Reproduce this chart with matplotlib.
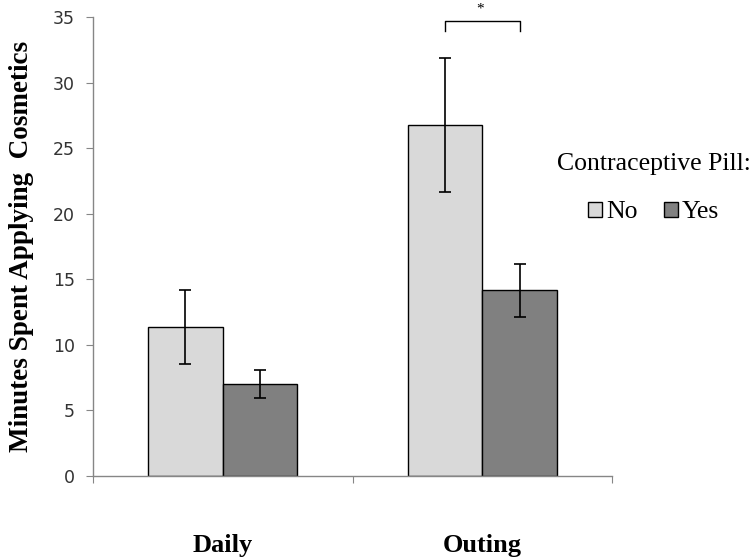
import matplotlib
matplotlib.use("Agg")
import matplotlib.pyplot as plt
import numpy as np
from matplotlib.patches import Patch

categories = ["Daily", "Outing"]
series_names = ["No", "Yes"]
means_no = [11.35, 26.75]
means_yes = [7.0, 14.15]
err_no = [2.8, 5.1]
err_yes = [1.05, 2.0]
yticks = [0, 5, 10, 15, 20, 25, 30, 35]

fig = plt.figure(figsize=(7.55, 5.6), dpi=100)
ax = fig.add_axes([0.1232, 0.15, 0.6874, 0.8196])

x = np.arange(len(categories))
w = 0.288
col_no = "#D9D9D9"
col_yes = "#808080"
ax.bar(x - w/2, means_no, w, color=col_no, edgecolor="black", linewidth=1.0, zorder=2)
ax.bar(x + w/2, means_yes, w, color=col_yes, edgecolor="black", linewidth=1.0, zorder=2)
ax.errorbar(x - w/2, means_no, yerr=err_no, fmt="none", ecolor="black", elinewidth=1.2, capsize=4, capthick=1.2, zorder=3)
ax.errorbar(x + w/2, means_yes, yerr=err_yes, fmt="none", ecolor="black", elinewidth=1.2, capsize=4, capthick=1.2, zorder=3)

ax.set_xlim(-0.5, 1.5)
ax.set_ylim(0, 35)
ax.set_yticks(yticks)
ax.set_yticklabels([str(v) for v in yticks], fontsize=12.5, color="#333333", family="DejaVu Sans")
ax.set_xticks([-0.5, 0.5, 1.5], minor=False)
ax.set_xticklabels(["", "", ""])
ax.set_xticks(x, minor=True)
ax.set_xticklabels(categories, minor=True, fontsize=19, fontweight="bold", family="Liberation Serif")
ax.tick_params(axis="x", which="minor", length=0, pad=42)
ax.tick_params(axis="x", which="major", length=5, color="#868686", direction="out")
ax.tick_params(axis="y", length=5, color="#868686", direction="out", pad=8)
for s in ["top", "right"]:
    ax.spines[s].set_visible(False)
for s in ["left", "bottom"]:
    ax.spines[s].set_color("#868686")
    ax.spines[s].set_linewidth(1.0)

ax.set_ylabel("Minutes Spent Applying  Cosmetics", fontsize=19.5, fontweight="bold",
              family="Liberation Serif", labelpad=14)

# significance bracket
bx0 = 1 - w/2
bx1 = 1 + w/2
ax.plot([bx0, bx0, bx1, bx1], [33.9, 34.7, 34.7, 33.9], color="black", lw=1.0, clip_on=False)
ax.text(1.0 - 0.01, 35.15, "*", ha="center", va="bottom", fontsize=11, family="Liberation Serif", clip_on=False)

handles = [Patch(facecolor=col_no, edgecolor="black", linewidth=1.0),
           Patch(facecolor=col_yes, edgecolor="black", linewidth=1.0)]
leg = fig.legend(handles, series_names, title="Contraceptive Pill:", ncol=2, frameon=False,
                 loc="center", bbox_to_anchor=(0.8656, 0.664),
                 prop={"family": "Liberation Serif", "size": 18.5},
                 title_fontproperties={"family": "Liberation Serif", "size": 18.5},
                 handlelength=0.55, handleheight=0.55, handletextpad=0.15, columnspacing=1.0)
leg._legend_box.sep = 19

fig.savefig("out.png", dpi=100)
